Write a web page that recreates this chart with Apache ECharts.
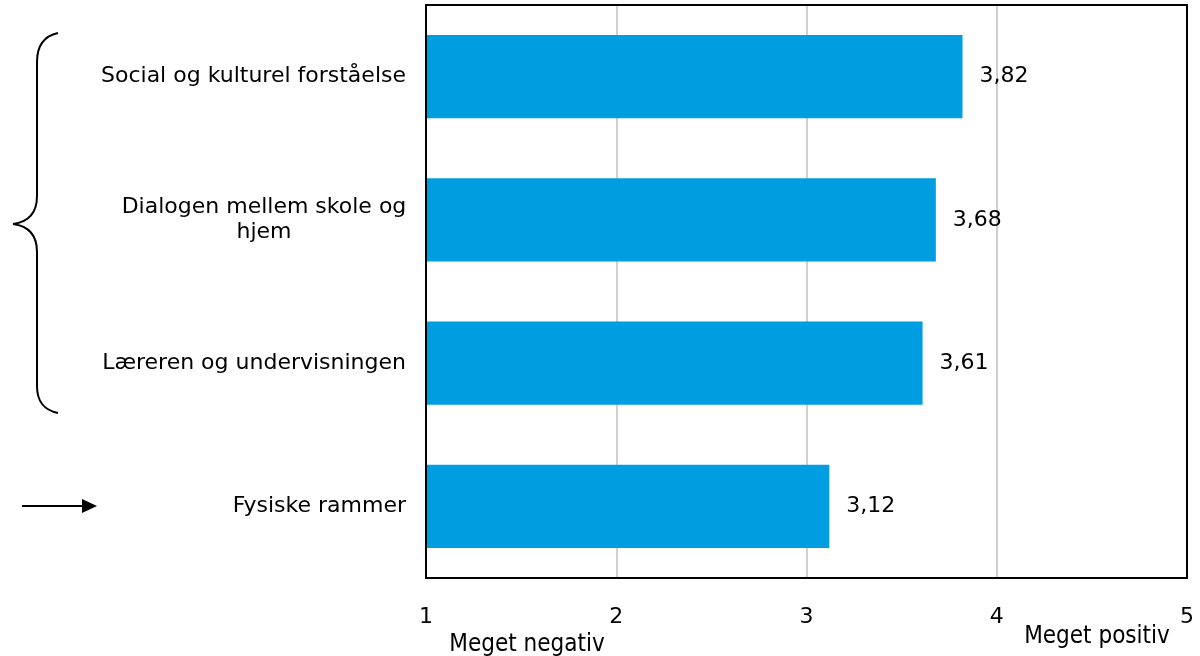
<!DOCTYPE html>
<html><head><meta charset="utf-8">
<script src="https://cdn.jsdelivr.net/npm/echarts@6/dist/echarts.min.js"></script>
<style>html,body{margin:0;padding:0;background:#fff}#c{width:1200px;height:656px}</style>
</head><body><div id="c"></div>
<script>
const categories = ['Social og kulturel forståelse', 'Dialogen mellem skole og\nhjem', 'Læreren og undervisningen', 'Fysiske rammer'];
const values = [3.82, 3.68, 3.61, 3.12];
const tickLabels = ['1', '2', '3', '4', '5'];
const axisEndLabels = ['Meget negativ', 'Meget positiv'];

const chart = echarts.init(document.getElementById('c'));
const font = '"DejaVu Sans", Verdana, sans-serif';
const fs = 22;
const braceStyle = { fill: null, stroke: '#000', lineWidth: 2 };
function bez(x1, y1, c1x, c1y, c2x, c2y, x2, y2) {
  return { type: 'bezierCurve', shape: { x1: x1, y1: y1, cpx1: c1x, cpy1: c1y, cpx2: c2x, cpy2: c2y, x2: x2, y2: y2 }, style: braceStyle };
}
chart.setOption({
  animation: false,
  grid: { left: 426, right: 13, top: 5, bottom: 78, show: true, borderColor: '#000', borderWidth: 2, containLabel: false, z: 5 },
  xAxis: {
    type: 'value', min: 1, max: 5, interval: 1,
    axisLine: { show: false }, axisTick: { show: false },
    splitLine: { show: true, showMinLine: false, showMaxLine: false, lineStyle: { color: '#c0c0c0', width: 1.5 } },
    axisLabel: { margin: 28, color: '#000', fontSize: fs, fontFamily: font,
      formatter: (v) => tickLabels[Math.round(v) - 1] }
  },
  yAxis: {
    type: 'category', inverse: true, data: categories,
    axisLine: { show: false }, axisTick: { show: false },
    axisLabel: { margin: 20, color: '#000', fontSize: fs, fontFamily: font, lineHeight: 25,
      formatter: (v) => v.indexOf('\n') >= 0 ? '{c|' + v + '}' : v,
      rich: { c: { width: 284, align: 'center', fontSize: fs, fontFamily: font, color: '#000', lineHeight: 25 } }
    }
  },
  series: [{
    type: 'bar', data: values, barWidth: '58%',
    itemStyle: { color: '#009EE0' },
    label: { show: true, position: 'right', distance: 17, color: '#000', fontSize: fs, fontFamily: font,
      formatter: (p) => p.value.toFixed(2).replace('.', ',') }
  }],
  graphic: [
    bez(58, 33, 44, 36, 37, 46, 37, 62),
    { type: 'line', shape: { x1: 37, y1: 62, x2: 37, y2: 196 }, style: braceStyle },
    bez(37, 196, 37, 213, 28, 222, 13, 224),
    bez(13, 224, 28, 226, 37, 235, 37, 252),
    { type: 'line', shape: { x1: 37, y1: 252, x2: 37, y2: 386 }, style: braceStyle },
    bez(37, 386, 37, 402, 44, 410, 58, 413),
    { type: 'line', shape: { x1: 22, y1: 506, x2: 84, y2: 506 }, style: { stroke: '#000', lineWidth: 2 } },
    { type: 'polygon', shape: { points: [[82, 499], [97, 506], [82, 513]] }, style: { fill: '#000' } },
    { type: 'text', style: { x: 527, y: 645, align: 'center', verticalAlign: 'middle', text: axisEndLabels[0], font: '24px "DejaVu Sans Condensed", sans-serif', fill: '#000' } },
    { type: 'text', style: { x: 1097, y: 637, align: 'center', verticalAlign: 'middle', text: axisEndLabels[1], font: '24px "DejaVu Sans Condensed", sans-serif', fill: '#000' } }
  ]
});
</script></body></html>
